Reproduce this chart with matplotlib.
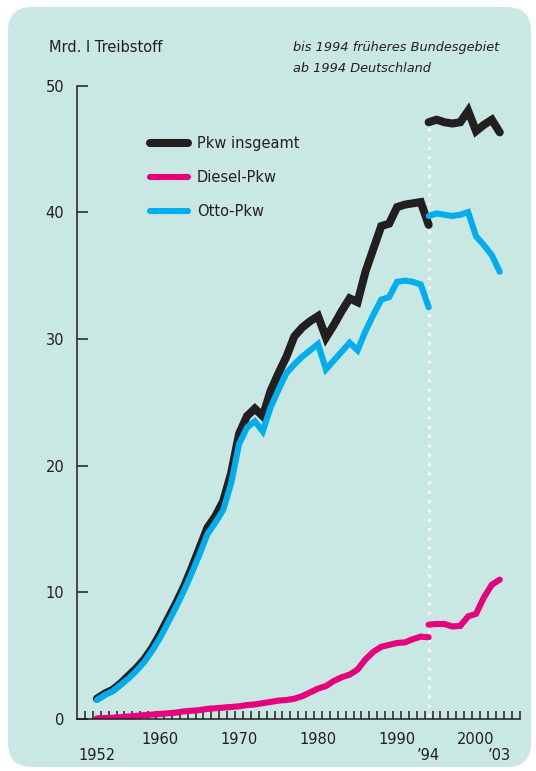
import numpy as np
import matplotlib
matplotlib.use('Agg')
import matplotlib.pyplot as plt
from matplotlib.patches import FancyBboxPatch
import matplotlib.transforms as mtransforms

plt.rcParams['font.family'] = ['Liberation Sans Narrow', 'DejaVu Sans']

# Werte (Mrd. l Treibstoff)
jahre_alt = np.arange(1952, 1995)
pkw_alt = [1.6, 2.0, 2.3, 2.8, 3.4, 4.0, 4.7, 5.6, 6.7, 7.9,
           9.1, 10.4, 11.9, 13.5, 15.1, 16.0, 17.2, 19.4, 22.5, 23.9,
           24.5, 23.9, 25.9, 27.3, 28.6, 30.2, 30.9, 31.4, 31.8, 30.1,
           31.1, 32.2, 33.2, 32.9, 35.3, 37.1, 38.9, 39.1, 40.4, 40.6,
           40.7, 40.8, 39.0]
otto_alt = [1.5, 1.9, 2.2, 2.7, 3.2, 3.8, 4.5, 5.4, 6.4, 7.6,
            8.8, 10.1, 11.5, 13.0, 14.6, 15.5, 16.5, 18.6, 21.7, 23.0,
            23.5, 22.7, 24.6, 26.0, 27.3, 28.0, 28.6, 29.1, 29.6, 27.6,
            28.3, 29.0, 29.7, 29.1, 30.6, 31.9, 33.1, 33.3, 34.5, 34.6,
            34.5, 34.3, 32.5]
diesel_alt = [0.05, 0.08, 0.1, 0.15, 0.2, 0.25, 0.3, 0.35, 0.4, 0.45,
              0.5, 0.6, 0.65, 0.7, 0.8, 0.85, 0.9, 0.95, 1.0, 1.1,
              1.15, 1.25, 1.35, 1.45, 1.5, 1.6, 1.8, 2.1, 2.4, 2.6,
              3.0, 3.3, 3.5, 3.9, 4.7, 5.3, 5.7, 5.85, 6.0, 6.05,
              6.3, 6.5, 6.45]

jahre_neu = np.arange(1994, 2004)
pkw_neu = [47.1, 47.3, 47.1, 47.0, 47.1, 48.0, 46.4, 46.9, 47.3, 46.3]
otto_neu = [39.7, 39.9, 39.8, 39.7, 39.8, 40.0, 38.1, 37.4, 36.6, 35.3]
diesel_neu = [7.45, 7.5, 7.5, 7.3, 7.35, 8.1, 8.3, 9.6, 10.6, 11.0]

xtick_pos = [1960, 1970, 1980, 1990, 2000]
xtick_lab = ['1960', '1970', '1980', '1990', '2000']
xtick2_pos = [1952, 1994, 2003]
xtick2_lab = ['1952', '\u201994', '\u201903']

schwarz = '#231f20'
pink = '#e6007e'
blau = '#00aeef'
hg = '#c9e7e3'

W, H = 536, 771
fig = plt.figure(figsize=(W / 100, H / 100), dpi=100)
fig.patch.set_facecolor('white')

# Hintergrund-Kasten mit runden Ecken
box = FancyBboxPatch((8 / W, 4 / H), 523 / W, 760 / H,
                     boxstyle='round,pad=0,rounding_size=0.045',
                     transform=fig.transFigure, facecolor=hg, edgecolor='none',
                     mutation_aspect=W / H, zorder=-10)
fig.patches.append(box)

ax = fig.add_axes([76.7 / W, (H - 719) / H, (519.5 - 76.7) / W, (719 - 85.5) / H])
ax.set_facecolor('none')
ax.set_xlim(1949.45, 2005.5)
ax.set_ylim(0, 50)

for s in ['top', 'right']:
    ax.spines[s].set_visible(False)
for s in ['left', 'bottom']:
    ax.spines[s].set_color(schwarz)
    ax.spines[s].set_linewidth(1.1)

lw_pkw = 5.8
lw_rest = 4.4
kw = dict(solid_capstyle='round', solid_joinstyle='miter')
l1, = ax.plot(jahre_alt, pkw_alt, color=schwarz, lw=lw_pkw, label='Pkw insgeamt', **kw)
ax.plot(jahre_neu, pkw_neu, color=schwarz, lw=lw_pkw, **kw)
l3, = ax.plot(jahre_alt, otto_alt, color=blau, lw=lw_rest, label='Otto-Pkw', **kw)
ax.plot(jahre_neu, otto_neu, color=blau, lw=lw_rest, **kw)
l2, = ax.plot(jahre_alt, diesel_alt, color=pink, lw=lw_rest, label='Diesel-Pkw', **kw)
ax.plot(jahre_neu, diesel_neu, color=pink, lw=lw_rest, **kw)

# gepunktete Trennlinie 1994
ax.plot([1994, 1994], [0.3, 46.6], color='white', lw=2.3,
        linestyle=(0, (0.01, 2.9)), dash_capstyle='round', zorder=1)

ax.set_yticks([0, 10, 20, 30, 40, 50])
ax.tick_params(axis='y', direction='in', length=8, width=1.1, color=schwarz,
               pad=9, labelsize=10.5, labelcolor=schwarz)
ax.set_xticks(xtick_pos)
ax.set_xticklabels(xtick_lab)
ax.tick_params(axis='x', which='major', length=0, pad=9, labelsize=10.5,
               labelcolor=schwarz)
ax.set_xticks(np.arange(1950.5, 2006), minor=True)
ax.tick_params(axis='x', which='minor', direction='in', length=5.5, width=1.1,
               color=schwarz)

# zweite Zeile der Jahresbeschriftung
trans = mtransforms.blended_transform_factory(ax.transData, ax.transAxes)
for xp, lab in zip(xtick2_pos, xtick2_lab):
    ax.text(xp, -36 / (719 - 85.5), lab, transform=trans, ha='center', va='center',
            fontsize=10.5, color=schwarz)

leg = ax.legend(handles=[l1, l2, l3], loc='upper left',
                bbox_to_anchor=(150 / W, (H - 136) / H), bbox_transform=fig.transFigure,
                frameon=False, fontsize=10.5, handlelength=2.6, handletextpad=0.6,
                labelspacing=1.3, borderpad=0, borderaxespad=0)
for t in leg.get_texts():
    t.set_color(schwarz)

fig.text(49 / W, (H - 47) / H, 'Mrd. l Treibstoff', fontsize=10.5, color=schwarz,
         va='center', ha='left')
fig.text(293 / W, (H - 47) / H, 'bis 1994 früheres Bundesgebiet', fontsize=9.3,
         color=schwarz, va='center', ha='left', style='italic')
fig.text(293 / W, (H - 69) / H, 'ab 1994 Deutschland', fontsize=9.3,
         color=schwarz, va='center', ha='left', style='italic')

fig.savefig('out.png', dpi=100)
